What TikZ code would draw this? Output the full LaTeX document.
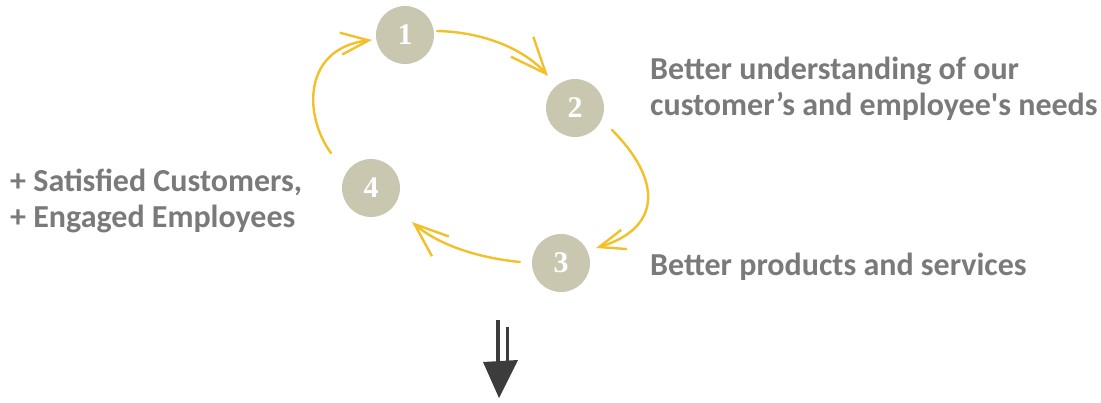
\documentclass[tikz,border=0pt]{standalone}
\usepackage{fontspec}
\setmainfont{Carlito}
\newfontfamily\numfont{Liberation Serif}
\usetikzlibrary{arrows.meta}
\definecolor{disc}{HTML}{C9C7B0}
\definecolor{gold}{HTML}{F2C028}
\definecolor{label}{HTML}{7A7A7A}
\definecolor{ink}{HTML}{3C3C3C}
\tikzset{
  num/.style={circle, fill=disc, minimum size=58pt, inner sep=0pt, text=white, font=\numfont\fontsize{30}{30}\selectfont\bfseries},
  cyc/.style={draw=gold, line width=2.4pt, line cap=round},
  lbl/.style={text=label, font=\fontsize{32}{36}\selectfont\bfseries, align=left, inner sep=0pt},
}
\begin{document}
\begin{tikzpicture}[x=1pt,y=-1pt]
\useasboundingbox (0,0) rectangle (1101,402);
% discs
\node[num] (c1) at (405,35) {1};
\node[num] (c2) at (575,108) {2};
\node[num] (c3) at (561,263) {3};
\node[num] (c4) at (371,188) {4};
% connector end points
\coordinate (s12) at (437,31);  \coordinate (e12) at (548,76);
\coordinate (s23) at (612,130); \coordinate (e23) at (596,248);
\coordinate (s34) at (520,262); \coordinate (e34) at (412,222);
\coordinate (s41) at (331,153); \coordinate (e41) at (372,40);
% cycle arrows
\draw[cyc, -{Straight Barb[length=36pt,width=30pt,line width=2.4pt]}] (s12) .. controls (485,32) and (525,50) .. (e12);
\draw[cyc, -{Straight Barb[length=26pt,width=20pt,line width=2.4pt]}] (s23) .. controls (662,180) and (662,228) .. (e23);
\draw[cyc, -{Straight Barb[length=34pt,width=26pt,line width=2.4pt]}] (s34) .. controls (480,258) and (440,246) .. (e34);
\draw[cyc, -{Straight Barb[length=28pt,width=22pt,line width=2.4pt]}] (s41) .. controls (303,115) and (303,48) .. (e41);
% labels (base anchor = baseline of last line)
\node[lbl, anchor=base west] (t2) at (650,115) {Better understanding of our\\customer’s and employee\textquotesingle s needs};
\node[lbl, anchor=base west] (t3) at (650,275) {Better products and services};
\node[lbl, anchor=base west] (t4) at (10,227) {+ Satisfied Customers,\\+ Engaged Employees};
% down arrow
\draw[ink, line width=4pt] (498,320) -- (498,366);
\draw[ink, line width=3pt] (507,327) -- (507,366);
\fill[ink] (483,362) -- (518,360) -- (499,398) -- cycle;
\end{tikzpicture}
\end{document}
